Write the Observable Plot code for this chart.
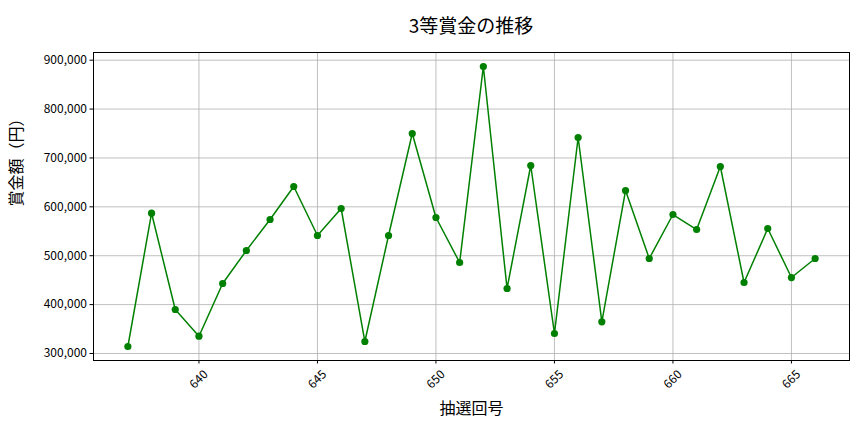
<!DOCTYPE html>
<html>
<head>
<meta charset="utf-8">
<script src="https://cdn.jsdelivr.net/npm/d3@7"></script>
<script src="https://cdn.jsdelivr.net/npm/@observablehq/plot@0.6"></script>
<style>
  html, body { margin: 0; padding: 0; background: #fff; }
  body { width: 864px; height: 432px; overflow: hidden; font-family: "Noto Sans CJK JP", "Noto Sans", sans-serif; }
  #title { height: 40px; line-height: 50px; text-align: center; font-size: 19px; color: #000; padding-left: 78px; }
  svg { display: block; }
</style>
</head>
<body>
<div id="title">3等賞金の推移</div>
<div id="chart"></div>
<script>
const draws = [637, 638, 639, 640, 641, 642, 643, 644, 645, 646, 647, 648, 649, 650, 651, 652, 653, 654, 655, 656, 657, 658, 659, 660, 661, 662, 663, 664, 665, 666];
const prizes = [314300, 587000, 390000, 335400, 443200, 510700, 574100, 641600, 541400, 596600, 324500, 541400, 750000, 578200, 486100, 887100, 433000, 684600, 340900, 741900, 364700, 633400, 494300, 584300, 553600, 682500, 445200, 555700, 455400, 494300];
const xTicks = [640, 645, 650, 655, 660, 665];
const yTicks = [300000, 400000, 500000, 600000, 700000, 800000, 900000];
const xLabel = "抽選回号";
const yLabel = "賞金額（円）";

const data = draws.map((d, i) => ({draw: d, prize: prizes[i]}));
const font = "Noto Sans CJK JP";
const fmt = d3.format(",");

const xMin = d3.min(draws), xMax = d3.max(draws);
const yMin = d3.min(prizes), yMax = d3.max(prizes);
const xPad = (xMax - xMin) * 0.05, yPad = (yMax - yMin) * 0.05;

const chart = Plot.plot({
  width: 864,
  height: 392,
  marginTop: 12,
  marginBottom: 72,
  marginLeft: 93,
  marginRight: 15,
  style: {fontFamily: font, fontSize: "12px", color: "#000", background: "#fff"},
  x: {domain: [xMin - xPad, xMax + xPad], label: null},
  y: {domain: [yMin - yPad, yMax + yPad], label: null},
  marks: [
    Plot.gridX(xTicks, {stroke: "#b0b0b0", strokeOpacity: 1, strokeWidth: 0.8}),
    Plot.gridY(yTicks, {stroke: "#b0b0b0", strokeOpacity: 1, strokeWidth: 0.8}),
    Plot.axisY({ticks: yTicks, tickFormat: fmt, tickSize: 3.5, tickPadding: 3, fontSize: 12, label: null}),
    Plot.axisX({ticks: xTicks, tickSize: 3.5, tickFormat: () => "", label: null}),
    Plot.text(xTicks, {x: d => d, text: d => String(d), frameAnchor: "bottom", dy: 19, rotate: -45, textAnchor: "middle", lineAnchor: "middle", fontSize: 12, fill: "#000"}),
    Plot.line(data, {x: "draw", y: "prize", stroke: "#008000", strokeWidth: 1.5}),
    Plot.dot(data, {x: "draw", y: "prize", fill: "#008000", r: 3.6, stroke: "none"}),
    Plot.frame({stroke: "#000", strokeWidth: 1}),
    Plot.text([xLabel], {frameAnchor: "bottom", dy: 48, text: d => d, fontSize: 16, fill: "#000", lineAnchor: "middle"}),
    Plot.text([yLabel], {frameAnchor: "left", dx: -77, text: d => d, fontSize: 16, rotate: -90, fill: "#000", lineAnchor: "middle"})
  ]
});
document.getElementById("chart").appendChild(chart);
</script>
</body>
</html>
